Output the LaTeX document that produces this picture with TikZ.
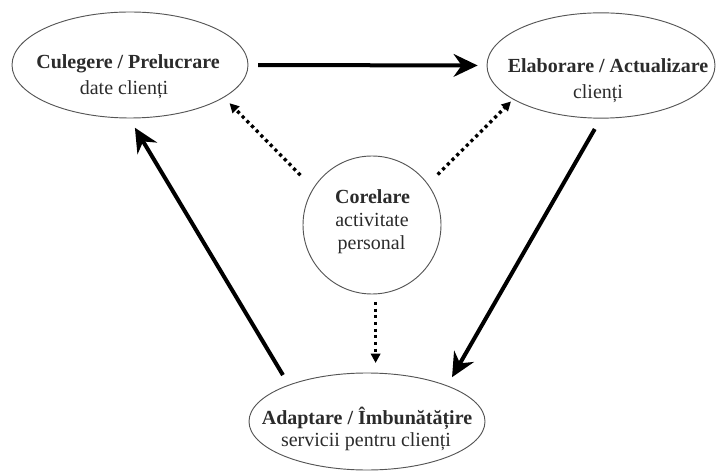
\documentclass[tikz,border=0pt]{standalone}
\usepackage{fontspec}
\setmainfont{Liberation Serif}
\usetikzlibrary{shapes.geometric,arrows.meta}
\definecolor{txt}{HTML}{2B2B2B}
\definecolor{edge}{HTML}{555555}
\tikzset{
  bubble/.style={ellipse,draw=edge,line width=0.7pt,inner sep=0pt,outer sep=0pt},
  ttl/.style={anchor=base,text=txt,inner sep=0pt,font=\fontsize{15}{15}\selectfont\bfseries},
  sub/.style={anchor=base,text=txt,inner sep=0pt,font=\fontsize{15}{15}\selectfont},
  mainarrow/.style={line width=3pt,-{Stealth[length=18pt,width=17pt,inset=6pt]}},
  dotarrow/.style={line width=2.5pt,dash pattern=on 2.4pt off 2.6pt,-{Triangle[length=7pt,width=7pt]}},
}
\begin{document}
\begin{tikzpicture}[x=0.75pt,y=-0.75pt]
\useasboundingbox (0,0) rectangle (716,473);
% shapes
\node[bubble,minimum width=177pt,minimum height=79.5pt] (e1) at (130,65) {};
\node[bubble,minimum width=171pt,minimum height=79pt] (e2) at (601,65.5) {};
\node[bubble,circle,minimum size=103.5pt] (c) at (372,225) {};
\node[bubble,minimum width=177pt,minimum height=72.75pt] (e3) at (367,421.5) {};
% texts
\node[ttl] (t1a) at (128,69) {Culegere / Prelucrare};
\node[sub] (t1b) at (124,95) {date clienți};
\node[ttl] (t2a) at (608,73) {Elaborare / Actualizare};
\node[sub] (t2b) at (598,99) {clienți};
\node[ttl] (tca) at (372.5,204) {Corelare};
\node[sub] (tcb) at (372,227) {activitate};
\node[sub] (tcc) at (371.5,250) {personal};
\node[ttl] (t3a) at (367,424) {Adaptare / Îmbunătățire};
\node[sub] (t3b) at (366,446) {servicii pentru clienți};
% thick cycle
\draw[mainarrow,shorten <=7.5pt,shorten >=7pt] (e1.east) -- (e2.west);
\draw[mainarrow,shorten <=9.4pt,shorten >=7.5pt] (e2.south) -- (e3.24);
\draw[mainarrow,shorten <=8.8pt,shorten >=8.5pt] (e3.155) -- (e1.-91);
% dotted
\draw[dotarrow,shorten <=14pt,shorten >=6.3pt] (c.148) -- (e1.-19);
\draw[dotarrow,shorten <=10.5pt,shorten >=2.5pt] (c.36) -- (e2.201);
\draw[dotarrow,shorten <=6pt,shorten >=7.5pt] (c.-87) -- (c.-87 |- e3.north);
\end{tikzpicture}
\end{document}
